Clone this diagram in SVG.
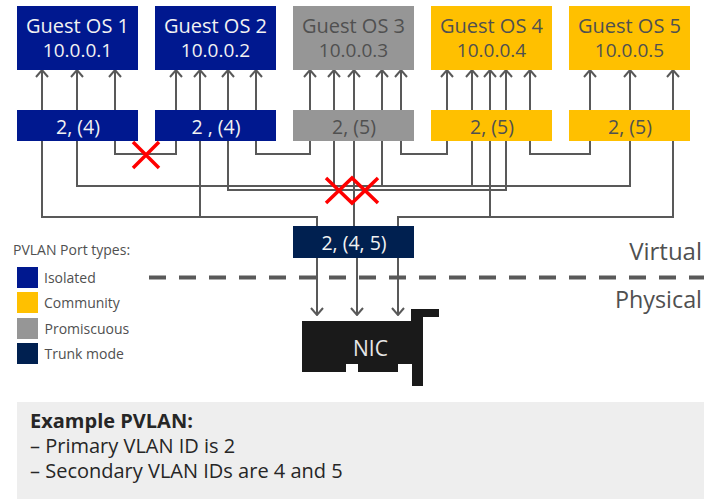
<svg xmlns="http://www.w3.org/2000/svg" width="704" height="499" viewBox="0 0 704 499">
<style>
text{font-family:"Open Sans","Noto Sans","Liberation Sans",sans-serif;fill:#505050}
.box{font-size:19.5px;text-anchor:middle}
.nm{font-size:20px}
.ip{font-size:19px}
.w{fill:#f2f2f2}
.iso{fill:#00188f}.com{fill:#ffc000}.pro{fill:#969696}.trk{fill:#002050}
.c{fill:none;stroke:#595959;stroke-width:2}
.up{marker-end:url(#ah)}
.dn{marker-end:url(#ah)}
.x{fill:none;stroke:#ff0000;stroke-width:3.5}
.leg{font-size:14px}
.pan{font-size:20px;fill:#262626}
.side{font-size:24px;text-anchor:end}
</style>
<defs>
<marker id="ah" markerUnits="userSpaceOnUse" markerWidth="10" markerHeight="14" refX="9" refY="7" orient="auto" viewBox="0 0 10 14">
<path d="M2 1L9 7L2 13" fill="none" stroke="#595959" stroke-width="2"/>
</marker>
</defs>
<rect id="example-panel-bg" x="17" y="402" width="687" height="97" fill="#eeeeee"/>
<g id="connectors" class="c">
<path class="up" d="M42 110V70"/><path class="up" d="M77 110V70"/><path class="up" d="M115 110V70"/>
<path class="up" d="M176 110V70"/><path class="up" d="M200 110V70"/><path class="up" d="M228 110V70"/><path class="up" d="M256 110V70"/>
<path class="up" d="M310 110V70"/><path class="up" d="M334 110V70"/><path class="up" d="M354 110V70"/><path class="up" d="M382 110V70"/><path class="up" d="M401 110V70"/>
<path class="up" d="M447 110V70"/><path class="up" d="M472 110V70"/><path class="up" d="M490 110V70"/><path class="up" d="M506 110V70"/><path class="up" d="M530 110V70"/>
<path class="up" d="M590 110V70"/><path class="up" d="M630 110V70"/><path class="up" d="M673 110V70"/>
<path d="M115 141V154H176V141"/>
<path d="M256 141V154H310V141"/>
<path d="M401 141V154H447V141"/>
<path d="M530 141V154H590V141"/>
<path d="M77 141V186H630V141"/>
<path d="M334 141V186M382 141V186M472 141V186"/>
<path d="M228 141V190H506V141"/>
<path d="M42 141V217H317V226"/>
<path d="M398 226V217H673V141"/>
<path d="M200 141V217M490 141V217"/>
<path d="M354 141V226"/>
<path class="dn" d="M317 258V315"/><path class="dn" d="M357 258V315"/><path class="dn" d="M398 258V315"/>
</g>
<g id="guest1"><rect class="iso" x="17" y="6" width="121" height="64"/><text class="box w"><tspan class="nm" x="77.500" y="33">Guest OS 1</tspan><tspan class="ip" x="77.500" y="57">10.0.0.1</tspan></text></g>
<g id="guest2"><rect class="iso" x="155" y="6" width="121" height="64"/><text class="box w"><tspan class="nm" x="215.500" y="33">Guest OS 2</tspan><tspan class="ip" x="215.500" y="57">10.0.0.2</tspan></text></g>
<g id="guest3"><rect class="pro" x="293" y="6" width="121" height="64"/><text class="box"><tspan class="nm" x="353.500" y="33">Guest OS 3</tspan><tspan class="ip" x="353.500" y="57">10.0.0.3</tspan></text></g>
<g id="guest4"><rect class="com" x="431" y="6" width="121" height="64"/><text class="box"><tspan class="nm" x="491.500" y="33">Guest OS 4</tspan><tspan class="ip" x="491.500" y="57">10.0.0.4</tspan></text></g>
<g id="guest5"><rect class="com" x="569" y="6" width="121" height="64"/><text class="box"><tspan class="nm" x="629.500" y="33">Guest OS 5</tspan><tspan class="ip" x="629.500" y="57">10.0.0.5</tspan></text></g>
<g id="port1"><rect class="iso" x="17" y="110" width="121" height="31"/><text class="box w" x="78" y="133.500">2, (4)</text></g>
<g id="port2"><rect class="iso" x="155" y="110" width="121" height="31"/><text class="box w" x="216" y="133.500">2 , (4)</text></g>
<g id="port3"><rect class="pro" x="293" y="110" width="121" height="31"/><text class="box" x="354" y="133.500">2, (5)</text></g>
<g id="port4"><rect class="com" x="431" y="110" width="121" height="31"/><text class="box" x="492" y="133.500">2, (5)</text></g>
<g id="port5"><rect class="com" x="569" y="110" width="121" height="31"/><text class="box" x="630" y="133.500">2, (5)</text></g>
<g id="trunk"><rect class="trk" x="293" y="226" width="121" height="32"/><text class="box w" x="354" y="250">2, (4, 5)</text></g>
<g id="blocked">
<path class="x" d="M133 142L159 168M159 142L133 168"/>
<path class="x" d="M326 178L352 203L378 178M326 203L352 178L378 203"/>
</g>
<g id="nic"><path fill="#1a1a1a" d="M302 321H411V309H439V317H423V386H412V364H398V372H358V364H346V372H302Z"/><text x="370.500" y="356" font-size="21px" text-anchor="middle" style="fill:#e6e6e6">NIC</text></g>
<path id="divider" d="M149 277.500H704" fill="none" stroke="#595959" stroke-width="4" stroke-dasharray="17 13"/>
<text class="side" x="702" y="260">Virtual</text>
<text class="side" x="702" y="308" textLength="87" lengthAdjust="spacingAndGlyphs">Physical</text>
<g id="legend">
<text x="13" y="255" font-size="14px">PVLAN Port types:</text>
<rect class="iso" x="17" y="267" width="21" height="21"/><text class="leg" x="44" y="283">Isolated</text>
<rect class="com" x="17" y="292" width="21" height="21"/><text class="leg" x="44" y="308">Community</text>
<rect class="pro" x="17" y="318" width="21" height="21"/><text class="leg" x="44.500" y="334">Promiscuous</text>
<rect class="trk" x="17" y="343" width="21" height="21"/><text class="leg" x="44.500" y="359">Trunk mode</text>
</g>
<g id="example">
<text class="pan" x="30" y="428" font-weight="700">Example PVLAN:</text>
<text class="pan" x="30" y="453">– Primary VLAN ID is 2</text>
<text class="pan" x="30" y="478">– Secondary VLAN IDs are 4 and 5</text>
</g>
</svg>
